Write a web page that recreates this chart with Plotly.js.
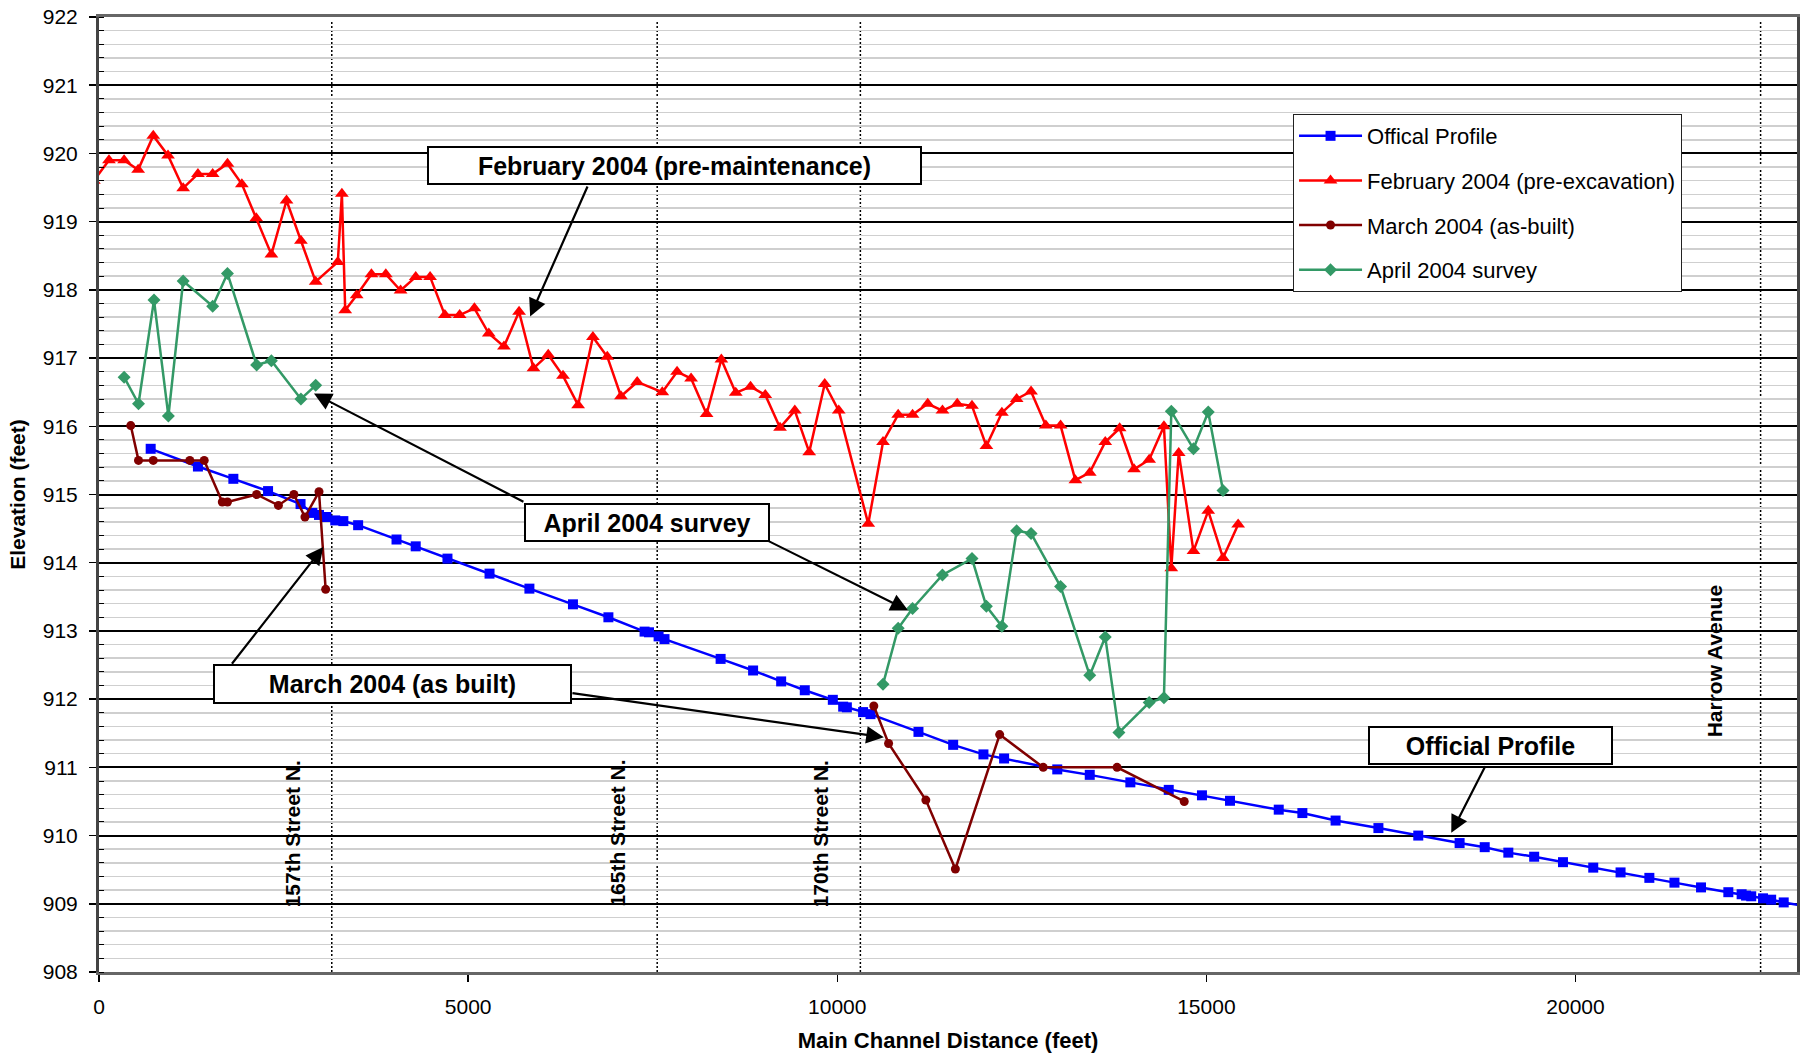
<!DOCTYPE html>
<html>
<head>
<meta charset="utf-8">
<script src="https://cdn.plot.ly/plotly-3.0.1.min.js"></script>
<style>
  html, body { margin: 0; padding: 0; background: #ffffff; }
  #chart { width: 1801px; height: 1054px; }
</style>
</head>
<body>
<div id="chart"></div>
<script>
// Main channel distance (feet) and bed elevation (feet) for each profile.
const officialDist = [700, 1340, 1820, 2290, 2730, 2890, 2980, 3080, 3200, 3310, 3510, 4030, 4290, 4720, 5290, 5830, 6420, 6900,
  7390, 7450, 7580, 7660, 8420, 8860, 9240, 9560, 9940, 10080, 10130, 10350, 10450, 11100, 11570, 11980, 12260, 12980, 13420,
  13970, 14490, 14940, 15320, 15980, 16300, 16750, 17330, 17870, 18430, 18770, 19090, 19440, 19830, 20240, 20610, 21000,
  21340, 21700, 22070, 22250, 22310, 22380, 22540, 22650, 22820, 23200];
const officialElev = [915.67, 915.41, 915.23, 915.05, 914.86, 914.73, 914.70, 914.67, 914.62, 914.61, 914.55, 914.34, 914.24,
  914.06, 913.84, 913.62, 913.39, 913.20, 912.99, 912.98, 912.92, 912.88, 912.59, 912.42, 912.26, 912.13, 911.99, 911.89,
  911.88, 911.81, 911.78, 911.52, 911.33, 911.19, 911.13, 910.97, 910.89, 910.78, 910.67, 910.59, 910.51, 910.38, 910.33,
  910.22, 910.11, 910.00, 909.89, 909.83, 909.75, 909.69, 909.61, 909.53, 909.46, 909.38, 909.31, 909.24, 909.17, 909.14,
  909.12, 909.11, 909.08, 909.06, 909.02, 908.95];

const febDist = [-70, 135, 340, 530, 735, 935, 1140, 1340, 1540, 1740, 1935, 2130, 2335, 2540, 2735, 2935, 3235, 3290, 3335,
  3490, 3690, 3885, 4085, 4290, 4485, 4685, 4885, 5085, 5280, 5485, 5690, 5885, 6085, 6285, 6490, 6690, 6885, 7070, 7290,
  7630, 7830, 8020, 8230, 8430, 8625, 8825, 9025, 9225, 9425, 9620, 9830, 10020, 10420, 10620, 10825, 11020, 11225, 11425,
  11625, 11825, 12020, 12230, 12430, 12625, 12825, 13025, 13225, 13420, 13630, 13825, 14020, 14225, 14425, 14525, 14625,
  14825, 15025, 15225, 15430];
const febElev = [919.60, 919.90, 919.90, 919.76, 920.26, 919.97, 919.49, 919.70, 919.70, 919.85, 919.55, 919.05, 918.52,
  919.31, 918.72, 918.12, 918.41, 919.41, 917.70, 917.92, 918.23, 918.23, 917.99, 918.19, 918.19, 917.63, 917.63, 917.73,
  917.36, 917.17, 917.68, 916.85, 917.05, 916.74, 916.31, 917.31, 917.02, 916.44, 916.65, 916.50, 916.80, 916.70, 916.18,
  916.98, 916.49, 916.58, 916.46, 915.98, 916.23, 915.62, 916.62, 916.23, 914.57, 915.77, 916.17, 916.17, 916.33, 916.23,
  916.33, 916.30, 915.71, 916.20, 916.40, 916.51, 916.01, 916.01, 915.21, 915.32, 915.77, 915.97, 915.37, 915.51, 916.00,
  913.92, 915.61, 914.17, 914.76, 914.07, 914.56];

const marDist = [430, 535, 735, 1230, 1425, 1670, 1740, 2135, 2430, 2640, 2790, 2980, 3070, null,
  10495, 10695, 11200, 11600, 12200, 12790, 13790, 14700];
const marElev = [916.01, 915.50, 915.50, 915.50, 915.50, 914.89, 914.89, 915.00, 914.84, 915.00, 914.67, 915.04, 913.61, null,
  911.90, 911.35, 910.52, 909.51, 911.48, 911.00, 911.00, 910.50];

const aprDist = [340, 535, 745, 940, 1140, 1540, 1740, 2135, 2335, 2735, 2935, null,
  10620, 10825, 11020, 11425, 11825, 12020, 12230, 12430, 12625, 13025, 13420, 13630, 13815, 14225, 14425, 14525, 14825,
  15025, 15225];
const aprElev = [916.72, 916.33, 917.85, 916.15, 918.13, 917.76, 918.24, 916.90, 916.96, 916.40, 916.60, null,
  912.22, 913.04, 913.33, 913.82, 914.06, 913.36, 913.07, 914.47, 914.43, 913.65, 912.35, 912.91, 911.51, 911.95, 912.02,
  916.22, 915.67, 916.21, 915.06];

// Cross streets along the channel
const streetNames = ['157th Street N.', '165th Street N.', '170th Street N.', 'Harrow Avenue'];
const streetDist = [3153, 7561, 10313, 22507];

// Series names and axis ticks
const seriesNames = ['Offical Profile', 'February 2004 (pre-excavation)', 'March 2004 (as-built)', 'April 2004 survey'];
const xTicks = [0, 5000, 10000, 15000, 20000];
const yTicks = [908, 909, 910, 911, 912, 913, 914, 915, 916, 917, 918, 919, 920, 921, 922];

const FONT = 'Liberation Sans, Arial, Helvetica, sans-serif';

function series(i, x, y, color, symbol, size) {
  return {
    type: 'scatter', mode: 'lines+markers', name: seriesNames[i], legendgroup: 'g' + i,
    x: x, y: y, connectgaps: false,
    line: { color: color, width: 2.5 },
    marker: { color: color, symbol: symbol, size: size }
  };
}

const traces = [
  series(0, officialDist, officialElev, '#0000ff', 'square', 10),
  series(1, febDist, febElev, '#ff0000', 'triangle-up', 12),
  series(2, marDist, marElev, '#800000', 'circle', 9),
  series(3, aprDist, aprElev, '#339966', 'diamond', 10)
];

// Dotted markers at each cross street
const shapes = streetDist.map(d => ({
  type: 'line', xref: 'x', yref: 'paper', x0: d, x1: d, y0: 0, y1: 0.995, layer: 'between',
  line: { color: '#000000', width: 1.5, dash: '2px,2px' }
}));

// Street name labels, set just left of each street line
const streetLabelOffset = [528, 544, 536, 612];
const streetLabelY = [910.03, 910.03, 910.03, 912.56];
const annotations = [];
streetNames.forEach((name, i) => {
  annotations.push({
    xref: 'x', yref: 'y', x: streetDist[i] - streetLabelOffset[i], y: streetLabelY[i],
    text: name, showarrow: false, textangle: -90,
    font: { family: FONT, size: 21, color: '#000000', weight: 'bold' }
  });
});

// Callout arrows: tip (x, y) and tail (ax, ay) in data units
function arrow(x, y, ax, ay) {
  return {
    xref: 'x', yref: 'y', axref: 'x', ayref: 'y', x: x, y: y, ax: ax, ay: ay,
    text: ' ', font: { size: 1 }, borderpad: 0,
    showarrow: true, arrowhead: 2, arrowsize: 1.6, arrowwidth: 2.2, arrowcolor: '#000000', standoff: 0
  };
}
annotations.push(arrow(5840, 917.61, 6623, 919.53));
annotations.push(arrow(2912, 916.48, 5756, 914.89));
annotations.push(arrow(10961, 913.30, 9064, 914.32));
annotations.push(arrow(3038, 914.23, 1794, 912.51));
annotations.push(arrow(10631, 911.44, 6406, 912.09));
annotations.push(arrow(18317, 910.04, 18784, 911.03));

// Callout boxes
function box(x, y, text, w, h) {
  return {
    xref: 'x', yref: 'y', x: x, y: y, text: text, showarrow: false,
    width: w, height: h, align: 'center', valign: 'middle',
    bgcolor: '#ffffff', bordercolor: '#000000', borderwidth: 2, borderpad: 0,
    font: { family: FONT, size: 25, color: '#000000', weight: 'bold' }
  };
}
annotations.push(box(7794, 919.82, 'February 2004 (pre-maintenance)', 491, 35));
annotations.push(box(7422, 914.59, 'April 2004 survey', 242, 35));
annotations.push(box(3975, 912.22, 'March 2004 (as built)', 355, 36));
annotations.push(box(18845, 911.32, 'Official Profile', 241, 35));

const layout = {
  width: 1801, height: 1054,
  margin: { l: 99, r: 4, t: 17, b: 82, pad: 0 },
  paper_bgcolor: '#ffffff', plot_bgcolor: '#ffffff',
  font: { family: FONT, size: 21, color: '#000000' },
  showlegend: true,
  legend: {
    x: 0.7032, y: 0.8984, xanchor: 'left', yanchor: 'top',
    bgcolor: '#ffffff', bordercolor: '#222222', borderwidth: 1,
    font: { family: FONT, size: 22, color: '#000000' },
    itemwidth: 63, tracegroupgap: 13, traceorder: 'grouped'
  },
  xaxis: {
    range: [0, 23000], tickvals: xTicks, tickformat: 'd',
    ticks: 'outside', ticklen: 7, tickwidth: 1.5, tickcolor: '#000000', ticklabelstandoff: 7,
    showgrid: false, zeroline: false,
    showline: true, linecolor: '#666666', linewidth: 3, mirror: true,
    tickfont: { family: FONT, size: 21, color: '#000000' },
    title: { text: 'Main Channel Distance (feet)', standoff: 16,
             font: { family: FONT, size: 22, color: '#000000', weight: 'bold' } }
  },
  yaxis: {
    range: [908, 922], tickvals: yTicks,
    ticks: 'outside', ticklen: 7, tickwidth: 1.5, tickcolor: '#000000', ticklabelstandoff: 7,
    showgrid: true, gridcolor: '#000000', gridwidth: 2, zeroline: false,
    showline: true, linecolor: '#444444', linewidth: 3, mirror: true,
    minor: { dtick: 0.2, showgrid: true, gridcolor: '#cfcfcf', gridwidth: 1.5,
             ticks: 'inside', ticklen: 5, tickwidth: 1, tickcolor: '#000000' },
    tickfont: { family: FONT, size: 21, color: '#000000' },
    title: { text: 'Elevation (feet)', standoff: 12,
             font: { family: FONT, size: 21, color: '#000000', weight: 'bold' } }
  },
  shapes: shapes,
  annotations: annotations,
  hovermode: false
};

Plotly.newPlot('chart', traces, layout, { displayModeBar: false, staticPlot: true });
</script>
</body>
</html>
